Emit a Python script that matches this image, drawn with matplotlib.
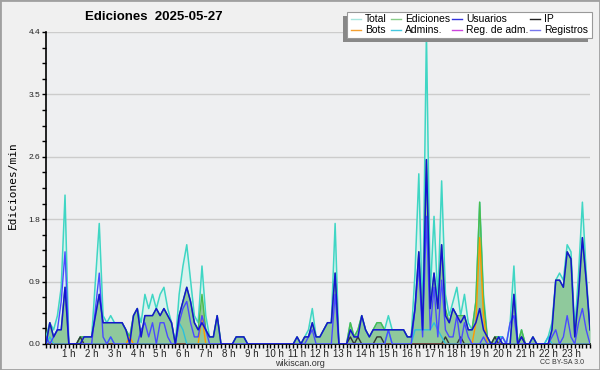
import matplotlib.pyplot as plt
import numpy as np
from matplotlib.lines import Line2D
from matplotlib.patches import Rectangle

# ediciones/min, intervalos de 10 minutos (144 por dia)
total = [
    0.1, 0.3, 0.2, 0.4, 0.8, 2.1, 0.0, 0.0, 0.0, 0.1, 0.1, 0.1,
    0.1, 0.9, 1.7, 0.4, 0.3, 0.4, 0.3, 0.3, 0.3, 0.2, 0.1, 0.4,
    0.5, 0.3, 0.7, 0.5, 0.7, 0.5, 0.7, 0.8, 0.5, 0.3, 0.0, 0.7,
    1.1, 1.4, 0.9, 0.4, 0.3, 1.1, 0.4, 0.1, 0.1, 0.4, 0.0, 0.0,
    0.0, 0.0, 0.1, 0.1, 0.1, 0.0, 0.0, 0.0, 0.0, 0.0, 0.0, 0.0,
    0.0, 0.0, 0.0, 0.0, 0.0, 0.0, 0.1, 0.0, 0.1, 0.2, 0.5, 0.1,
    0.1, 0.2, 0.3, 0.3, 1.7, 0.0, 0.0, 0.0, 0.3, 0.1, 0.2, 0.4,
    0.2, 0.1, 0.2, 0.3, 0.3, 0.2, 0.4, 0.2, 0.2, 0.2, 0.2, 0.1,
    0.1, 1.0, 2.4, 0.3, 4.4, 0.7, 1.8, 0.6, 2.3, 0.7, 0.4, 0.6,
    0.8, 0.4, 0.7, 0.3, 0.2, 0.6, 2.0, 0.7, 0.1, 0.0, 0.1, 0.1,
    0.1, 0.0, 0.3, 1.1, 0.0, 0.2, 0.0, 0.0, 0.1, 0.0, 0.0, 0.0,
    0.1, 0.3, 0.9, 1.0, 0.9, 1.4, 1.3, 0.2, 1.0, 2.0, 1.0, 0.2,
]
ediciones = [
    0.0, 0.3, 0.1, 0.2, 0.2, 0.8, 0.0, 0.0, 0.0, 0.1, 0.1, 0.1,
    0.1, 0.4, 0.7, 0.3, 0.3, 0.3, 0.3, 0.3, 0.3, 0.2, 0.1, 0.4,
    0.5, 0.1, 0.4, 0.4, 0.4, 0.5, 0.4, 0.5, 0.4, 0.3, 0.0, 0.4,
    0.6, 0.8, 0.6, 0.3, 0.2, 0.7, 0.2, 0.1, 0.1, 0.4, 0.0, 0.0,
    0.0, 0.0, 0.1, 0.1, 0.1, 0.0, 0.0, 0.0, 0.0, 0.0, 0.0, 0.0,
    0.0, 0.0, 0.0, 0.0, 0.0, 0.0, 0.1, 0.0, 0.1, 0.1, 0.3, 0.1,
    0.1, 0.2, 0.3, 0.3, 1.0, 0.0, 0.0, 0.0, 0.3, 0.1, 0.2, 0.4,
    0.2, 0.1, 0.2, 0.3, 0.3, 0.2, 0.2, 0.2, 0.2, 0.2, 0.2, 0.1,
    0.1, 0.5, 1.3, 0.2, 2.6, 0.5, 1.0, 0.5, 1.4, 0.5, 0.3, 0.5,
    0.4, 0.4, 0.4, 0.2, 0.2, 0.6, 2.0, 0.6, 0.1, 0.0, 0.1, 0.1,
    0.0, 0.0, 0.0, 0.7, 0.0, 0.2, 0.0, 0.0, 0.1, 0.0, 0.0, 0.0,
    0.0, 0.2, 0.9, 0.9, 0.8, 1.3, 1.2, 0.1, 0.7, 1.5, 0.9, 0.2,
]
usuarios = [
    0.0, 0.3, 0.1, 0.2, 0.2, 0.8, 0.0, 0.0, 0.0, 0.0, 0.1, 0.1,
    0.1, 0.4, 0.7, 0.3, 0.3, 0.3, 0.3, 0.3, 0.3, 0.2, 0.0, 0.4,
    0.5, 0.1, 0.4, 0.4, 0.4, 0.5, 0.4, 0.5, 0.4, 0.3, 0.0, 0.4,
    0.6, 0.8, 0.6, 0.3, 0.2, 0.3, 0.2, 0.1, 0.1, 0.4, 0.0, 0.0,
    0.0, 0.0, 0.1, 0.1, 0.1, 0.0, 0.0, 0.0, 0.0, 0.0, 0.0, 0.0,
    0.0, 0.0, 0.0, 0.0, 0.0, 0.0, 0.1, 0.0, 0.1, 0.1, 0.3, 0.1,
    0.1, 0.2, 0.3, 0.3, 1.0, 0.0, 0.0, 0.0, 0.2, 0.1, 0.1, 0.4,
    0.2, 0.1, 0.2, 0.2, 0.2, 0.2, 0.2, 0.2, 0.2, 0.2, 0.2, 0.1,
    0.1, 0.5, 1.3, 0.2, 2.6, 0.5, 1.0, 0.5, 1.4, 0.4, 0.3, 0.5,
    0.4, 0.3, 0.4, 0.2, 0.2, 0.3, 0.5, 0.2, 0.1, 0.0, 0.0, 0.1,
    0.0, 0.0, 0.0, 0.7, 0.0, 0.1, 0.0, 0.0, 0.1, 0.0, 0.0, 0.0,
    0.0, 0.2, 0.9, 0.9, 0.8, 1.3, 1.2, 0.1, 0.7, 1.5, 0.9, 0.2,
]
ip = [
    0, 0, 0, 0, 0, 0, 0, 0, 0, 0.1, 0, 0,
    0, 0, 0, 0, 0, 0, 0, 0, 0, 0, 0, 0,
    0, 0, 0, 0, 0, 0, 0, 0, 0, 0, 0, 0,
    0, 0, 0, 0, 0, 0, 0, 0, 0, 0, 0, 0,
    0, 0, 0, 0, 0, 0, 0, 0, 0, 0, 0, 0,
    0, 0, 0, 0, 0, 0, 0, 0, 0, 0, 0, 0,
    0, 0, 0, 0, 0, 0, 0, 0, 0.1, 0, 0.1, 0,
    0, 0, 0, 0.1, 0.1, 0, 0, 0, 0, 0, 0, 0,
    0, 0, 0, 0, 0, 0, 0, 0, 0, 0.1, 0, 0,
    0, 0.1, 0, 0, 0, 0, 0, 0, 0, 0, 0.1, 0,
    0, 0, 0, 0, 0, 0.1, 0, 0, 0, 0, 0, 0,
    0, 0, 0, 0, 0, 0, 0, 0, 0, 0, 0, 0,
]
bots = [
    0, 0, 0, 0, 0, 0, 0, 0, 0, 0, 0, 0,
    0, 0, 0, 0, 0, 0, 0, 0, 0, 0, 0.1, 0,
    0, 0, 0, 0, 0, 0, 0, 0, 0, 0, 0, 0,
    0, 0, 0, 0, 0, 0.4, 0, 0, 0, 0, 0, 0,
    0, 0, 0, 0, 0, 0, 0, 0, 0, 0, 0, 0,
    0, 0, 0, 0, 0, 0, 0, 0, 0, 0, 0, 0,
    0, 0, 0, 0, 0, 0, 0, 0, 0, 0, 0, 0,
    0, 0, 0, 0, 0, 0, 0, 0, 0, 0, 0, 0,
    0, 0, 0, 0, 0, 0, 0, 0, 0, 0, 0, 0,
    0, 0, 0, 0, 0, 0.3, 1.5, 0.4, 0, 0, 0, 0,
    0, 0, 0, 0, 0, 0, 0, 0, 0, 0, 0, 0,
    0, 0, 0, 0, 0, 0, 0, 0, 0, 0, 0, 0,
]
admins = [
    0, 0.1, 0, 0, 0, 0, 0, 0, 0, 0, 0, 0,
    0, 0, 0, 0, 0, 0.1, 0, 0, 0, 0, 0, 0,
    0, 0, 0, 0, 0, 0, 0, 0, 0, 0, 0, 0.3,
    0.2, 0, 0, 0, 0, 0, 0, 0, 0, 0, 0, 0,
    0, 0, 0, 0, 0, 0, 0, 0, 0, 0, 0, 0,
    0, 0, 0, 0, 0, 0, 0, 0, 0, 0, 0, 0,
    0, 0, 0, 0, 0, 0, 0, 0, 0, 0, 0, 0,
    0, 0, 0, 0, 0, 0, 0.2, 0, 0, 0, 0, 0,
    0, 0.2, 0.2, 0.2, 0.2, 0.2, 0.3, 0.2, 0.1, 0, 0, 0,
    0, 0, 0, 0, 0, 0, 0, 0, 0, 0, 0, 0.1,
    0.1, 0, 0, 0, 0, 0, 0, 0, 0, 0, 0, 0,
    0.1, 0, 0, 0, 0, 0, 0, 0, 0, 0, 0, 0,
]
reg_adm = [0.0] * 144
registros = [
    0.1, 0.0, 0.1, 0.2, 0.6, 1.3, 0, 0, 0, 0, 0, 0,
    0.0, 0.5, 1.0, 0.1, 0.0, 0.1, 0, 0, 0, 0, 0, 0,
    0.0, 0.2, 0.3, 0.1, 0.3, 0.0, 0.3, 0.3, 0.1, 0.0, 0.0, 0.3,
    0.5, 0.6, 0.3, 0.1, 0.1, 0.4, 0.2, 0, 0, 0, 0, 0,
    0, 0, 0, 0, 0, 0, 0, 0, 0, 0, 0, 0,
    0, 0, 0, 0, 0, 0, 0, 0, 0, 0.1, 0.2, 0,
    0, 0, 0, 0, 0.7, 0, 0, 0, 0, 0, 0, 0,
    0, 0, 0, 0, 0, 0, 0.2, 0, 0, 0, 0, 0,
    0.0, 0.5, 1.1, 0.1, 1.8, 0.2, 0.8, 0.1, 0.9, 0.2, 0.1, 0.1,
    0.4, 0.0, 0.3, 0.1, 0.0, 0.0, 0.0, 0.1, 0, 0, 0, 0,
    0.1, 0, 0.3, 0.4, 0, 0, 0, 0, 0, 0, 0, 0,
    0.0, 0.1, 0.2, 0.0, 0.1, 0.4, 0.1, 0.0, 0.3, 0.5, 0.2, 0.0,
]

horas = [f'{h} h' for h in range(1, 24)]
y_ticks = [0.0, 0.88, 1.76, 2.64, 3.52, 4.4]
y_labels = ['0.0', '0.9', '1.8', '2.6', '3.5', '4.4']

# leyenda: (etiqueta, color), en filas como la original
leyenda = [
    [('Total', '#a8e6df'), ('Ediciones', '#88cc88'),
     ('Usuarios', '#3333dd'), ('IP', '#222222')],
    [('Bots', '#f5a030'), ('Admins.', '#44c8e0'),
     ('Reg. de adm.', '#cc44dd'), ('Registros', '#7777ee')],
]

W, H = 600, 370


def fx(px):
    return px / W


def fy(py):
    return 1 - py / H


fig = plt.figure(figsize=(6, 3.7), dpi=100, facecolor='#f0f0f0')
ax = fig.add_axes([fx(46), fy(344), 544 / W, 312 / H])
ax.set_facecolor('#eeeff1')

x = np.arange(len(total))
ax.fill_between(x, total, color='#d9f2ee', lw=0, zorder=2)
ax.fill_between(x, ediciones, color='#8fc99c', lw=0, zorder=2)
ax.plot(x, total, color='#3fd6c4', lw=1.1, zorder=3)
ax.plot(x, ediciones, color='#4cbb4c', lw=1, zorder=3)
ax.plot(x, bots, color='#ff9900', lw=1, zorder=3)
ax.plot(x, ip, color='#333333', lw=1, zorder=3)
ax.plot(x, admins, color='#2cc0dc', lw=1, zorder=3)
ax.plot(x, reg_adm, color='#cc44dd', lw=1, zorder=3)
ax.plot(x, registros, color='#4a4aff', lw=1, zorder=3)
ax.plot(x, usuarios, color='#1414d0', lw=1.1, zorder=3)

ax.set_xlim(0, len(total) - 1)
ax.set_ylim(0, 4.4)
ax.set_xticks(np.arange(6, 144, 6), horas)
ax.set_xticks(np.arange(0, 144, 1), minor=True)
ax.set_yticks(y_ticks, y_labels)
ax.set_yticks(np.arange(0, 4.41, 0.22), minor=True)
ax.tick_params(which='both', direction='out', length=3, width=1,
               colors='black', labelcolor='#222222')
ax.tick_params(axis='x', pad=0.5)
ax.tick_params(axis='y', pad=1)
for lab in ax.get_xticklabels():
    lab.set_fontfamily('Liberation Sans')
    lab.set_fontsize(7)
for lab in ax.get_yticklabels():
    lab.set_fontfamily('Liberation Sans')
    lab.set_fontsize(6)
ax.grid(axis='y', which='major', color='#cccccc', lw=1, zorder=1)
for s in ['top', 'right']:
    ax.spines[s].set_visible(False)
ax.spines['left'].set_linewidth(1.2)
ax.spines['bottom'].set_linewidth(1.2)

fig.text(fx(154), fy(17), 'Ediciones  2025-05-27', fontsize=9.5,
         fontweight='bold', family='Liberation Sans', ha='center', va='center')
fig.text(fx(13), fy(185), 'Ediciones/min', rotation=90, fontsize=8,
         family='DejaVu Sans Mono', ha='center', va='center')
fig.text(fx(300), fy(364), 'wikiscan.org', fontsize=6.5,
         family='Liberation Sans', ha='center', va='center', color='#333333')
fig.text(fx(562), fy(363), 'CC BY-SA 3.0', fontsize=5,
         family='Liberation Sans', ha='center', va='center', color='#333333')

# caja de la leyenda con sombra a la izquierda/abajo
fig.patches.append(Rectangle((fx(343), fy(42)), 245 / W, 26 / H,
                             transform=fig.transFigure, facecolor='#888888',
                             edgecolor='none', zorder=5))
fig.patches.append(Rectangle((fx(347), fy(38)), 245 / W, 26 / H,
                             transform=fig.transFigure, facecolor='white',
                             edgecolor='#999999', lw=0.8, zorder=6))
col_x = [351, 391, 452, 530]
fila_y = [19, 30]
for fila, entradas in zip(fila_y, leyenda):
    for cx, (txt, color) in zip(col_x, entradas):
        fig.add_artist(Line2D([fx(cx), fx(cx + 10)], [fy(fila), fy(fila)],
                              transform=fig.transFigure, color=color,
                              lw=1, zorder=7))
        fig.text(fx(cx + 14), fy(fila), txt, fontsize=7.5,
                 family='Liberation Sans', ha='left', va='center',
                 zorder=7)

fig.patches.append(Rectangle((0, 0), 1, 1, transform=fig.transFigure,
                             fill=False, edgecolor='#a0a0a0', lw=2))

fig.savefig('out.png', dpi=100, facecolor=fig.get_facecolor())
